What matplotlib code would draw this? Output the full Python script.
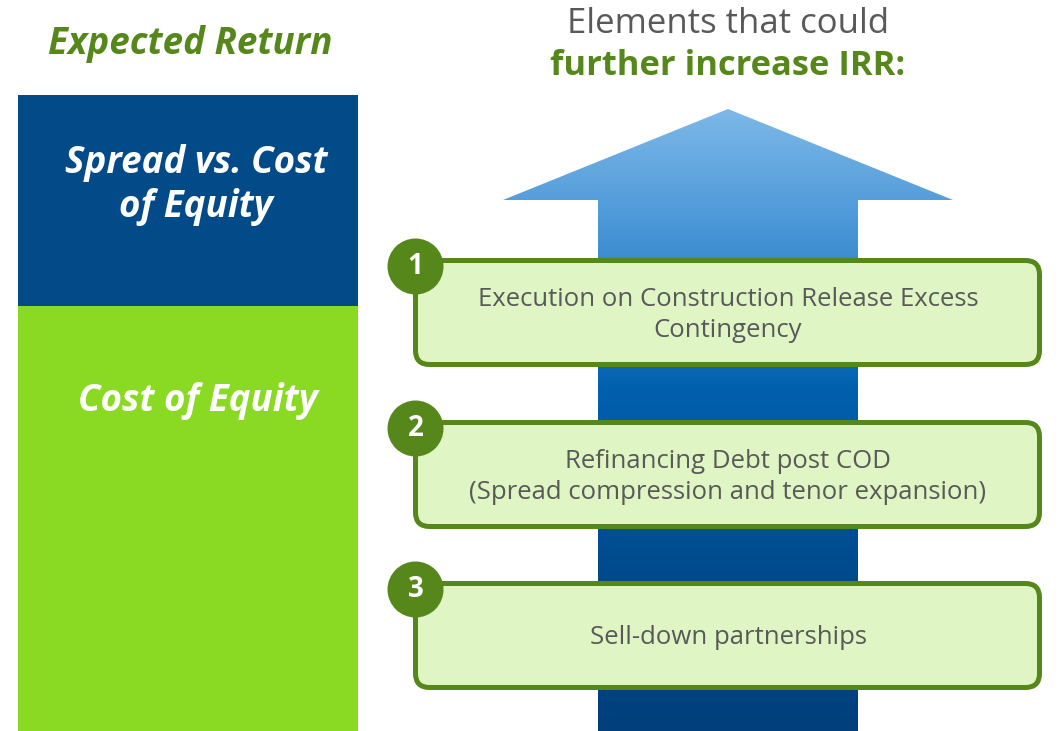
import matplotlib
matplotlib.use("Agg")
import matplotlib.pyplot as plt
import numpy as np
from matplotlib.patches import Rectangle, FancyBboxPatch, Circle, Polygon
from matplotlib.colors import LinearSegmentedColormap

# ---- content ----
left_title = "Expected Return"
left_blocks = ["Spread vs. Cost\nof Equity", "Cost of Equity"]
right_title_top = "Elements that could"
right_title_bold = "further increase IRR:"
item_numbers = ["1", "2", "3"]
item_texts = [
    "Execution on Construction Release Excess\nContingency",
    "Refinancing Debt post COD\n(Spread compression and tenor expansion)",
    "Sell-down partnerships",
]

# ---- styles ----
DARK_GREEN = "#55871a"
LIGHT_GREEN = "#8ad923"
BOX_FILL = "#dff5c3"
NAVY = "#034a88"
GREY = "#595959"
FONT = ["Open Sans", "DejaVu Sans"]

W, H = 1059, 731
fig = plt.figure(figsize=(W / 100, H / 100), dpi=100)
ax = fig.add_axes([0, 0, 1, 1])
ax.set_xlim(0, W)
ax.set_ylim(H, 0)
ax.axis("off")

# Left stacked blocks
ax.add_patch(Rectangle((18, 95), 340, 211, facecolor=NAVY, edgecolor="none"))
ax.add_patch(Rectangle((18, 306), 340, 425, facecolor=LIGHT_GREEN, edgecolor="none"))
ax.text(190, 44, left_title, color=DARK_GREEN, fontsize=26.5, fontweight="bold",
        fontstyle="italic", ha="center", va="center", family=FONT)
ax.text(196, 185, left_blocks[0], color="white", fontsize=26.5, fontweight="bold",
        fontstyle="italic", ha="center", va="center", family=FONT, linespacing=1.2)
ax.text(198, 401, left_blocks[1], color="white", fontsize=26.5, fontweight="bold",
        fontstyle="italic", ha="center", va="center", family=FONT)

# Right titles
ax.text(728, 24, right_title_top, color=GREY, fontsize=25, ha="center", va="center", family=FONT)
ax.text(728, 66, right_title_bold, color=DARK_GREEN, fontsize=24.8, fontweight="bold",
        ha="center", va="center", family=FONT)

# Gradient arrow
arrow_pts = [(728, 109), (953, 200), (858, 200), (858, 731), (598, 731), (598, 200), (503, 200)]
poly = Polygon(arrow_pts, closed=True, facecolor="none", edgecolor="none")
ax.add_patch(poly)
cmap = LinearSegmentedColormap.from_list(
    "arr", [(0.0, "#7db8e8"), (0.17, "#4f9ad9"), (0.45, "#0060ae"), (0.75, "#014a8c"), (1.0, "#003f7c")])
grad = np.linspace(0, 1, 256).reshape(-1, 1)
im = ax.imshow(grad, cmap=cmap, extent=(503, 953, 731, 109), aspect="auto", zorder=1)
im.set_clip_path(poly)

# Item boxes
box_tops = [260.5, 422.5, 583.5]
box_h = 104
for num, txt, top in zip(item_numbers, item_texts, box_tops):
    box = FancyBboxPatch((415.5 + 14, top + 14), 624 - 28, box_h - 28,
                         boxstyle="round,pad=14", facecolor=BOX_FILL,
                         edgecolor=DARK_GREEN, linewidth=3.6, zorder=3)
    ax.add_patch(box)
    ax.text(728, top + box_h / 2 + 2.5, txt, color=GREY, fontsize=18.5, ha="center",
            va="center", family=FONT, linespacing=1.34, zorder=4)
    ax.add_patch(Circle((415.5, top + 6), 28, facecolor=DARK_GREEN, edgecolor="none", zorder=5))
    ax.text(415.5, top + 6, num, color="white", fontsize=20, fontweight="bold",
            ha="center", va="center", family=FONT, zorder=6)

fig.savefig("out.png", dpi=100)
